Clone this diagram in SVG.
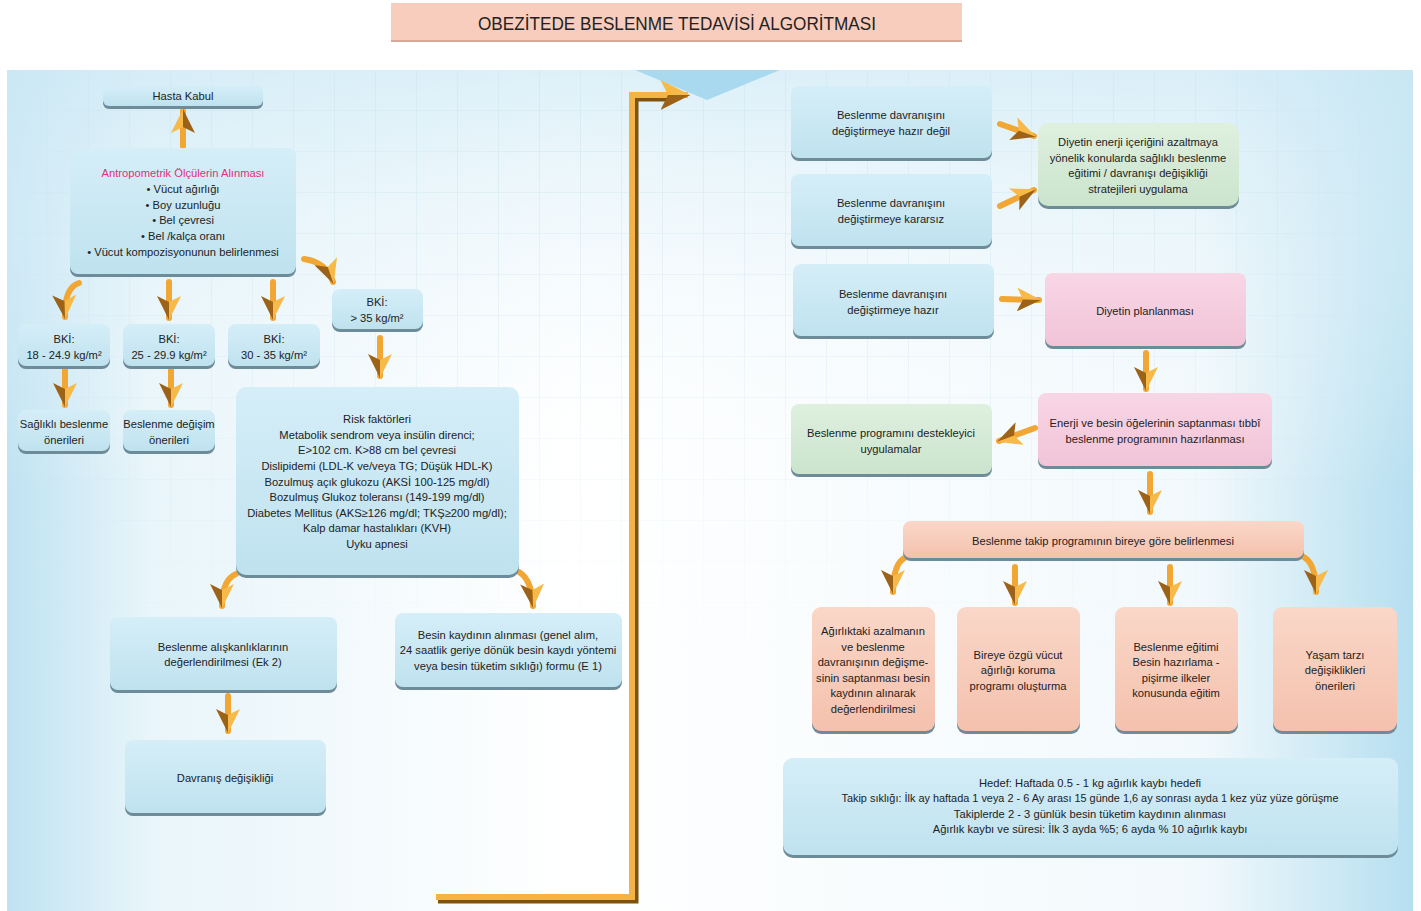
<svg xmlns="http://www.w3.org/2000/svg" width="1421" height="911" viewBox="0 0 1421 911">
<defs>
<linearGradient id="bgH" x1="0" y1="0" x2="1" y2="0">
<stop offset="0" stop-color="#bfe2f2"/><stop offset="0.1" stop-color="#e8f5fa"/><stop offset="0.4" stop-color="#ffffff"/><stop offset="0.85" stop-color="#f2f9fc"/><stop offset="1" stop-color="#b6dff0"/>
</linearGradient>
<linearGradient id="bgV" x1="0" y1="0" x2="0" y2="1">
<stop offset="0" stop-color="#cfeaf6" stop-opacity="0.7"/><stop offset="0.5" stop-color="#ffffff" stop-opacity="0"/>
</linearGradient>
<linearGradient id="fade" x1="0" y1="0" x2="0" y2="1">
<stop offset="0" stop-color="#fff"/><stop offset="1" stop-color="#000"/>
</linearGradient>
<mask id="gm"><rect x="0" y="70" width="1421" height="600" fill="url(#fade)"/></mask>
<pattern id="grid" x="7" y="70" width="41" height="41" patternUnits="userSpaceOnUse">
<path d="M41 0 V41 M0 41 H41" fill="none" stroke="#cfe6f1" stroke-width="1.2"/>
</pattern>
<linearGradient id="gBlue" x1="0" y1="0" x2="0" y2="1"><stop offset="0" stop-color="#d5eef8"/><stop offset="1" stop-color="#bfe2ef"/></linearGradient>
<linearGradient id="gPink" x1="0" y1="0" x2="0" y2="1"><stop offset="0" stop-color="#f8d6e5"/><stop offset="1" stop-color="#f1c4d8"/></linearGradient>
<linearGradient id="gGreen" x1="0" y1="0" x2="0" y2="1"><stop offset="0" stop-color="#dff0df"/><stop offset="1" stop-color="#cbe4cd"/></linearGradient>
<linearGradient id="gSalmon" x1="0" y1="0" x2="0" y2="1"><stop offset="0" stop-color="#fad7c8"/><stop offset="1" stop-color="#f4c1ad"/></linearGradient>
<marker id="ah" viewBox="0 0 12 12" refX="11" refY="6" markerWidth="24" markerHeight="24" markerUnits="userSpaceOnUse" orient="auto">
<path d="M0,0 L12,6 L3,6 Z" fill="#f7b947"/>
<path d="M3,6 L12,6 L0,12 Z" fill="#9c6218"/>
</marker>
<marker id="ahBig" viewBox="0 0 12 12" refX="11" refY="6" markerWidth="30" markerHeight="30" markerUnits="userSpaceOnUse" orient="auto">
<path d="M0,0 L12,6 L3,6 Z" fill="#f7b947"/>
<path d="M3,6 L12,6 L0,12 Z" fill="#9c6218"/>
</marker>
<style>
.t{font-family:"Liberation Sans",Arial,sans-serif;font-size:11.2px;fill:#222;text-anchor:middle}
.pk{fill:#e0307a}
.sh{fill:#6d8b99}
.blue{fill:url(#gBlue)}
.pink{fill:url(#gPink)}
.green{fill:url(#gGreen)}
.salmon{fill:url(#gSalmon)}
.ar{fill:none;stroke:#f2a634;stroke-width:6;stroke-linecap:round;marker-end:url(#ah)}
</style>
</defs>

<rect width="1421" height="911" fill="#ffffff"/>
<rect x="7" y="70" width="1406" height="841" fill="url(#bgH)"/>
<rect x="7" y="70" width="1406" height="841" fill="url(#bgV)"/>
<rect x="7" y="70" width="1406" height="600" fill="url(#grid)" mask="url(#gm)"/>
<polygon points="635,70 780,70 707,100" fill="#a9d9ef"/>

<g id="title">
<rect x="391" y="3" width="571" height="39" fill="#f8cdbd"/>
<rect x="391" y="40" width="571" height="2" fill="#d8a898"/>
<text x="677" y="30" font-family="Liberation Sans,Arial,sans-serif" font-size="18" fill="#222" text-anchor="middle" textLength="398" lengthAdjust="spacingAndGlyphs">OBEZİTEDE BESLENME TEDAVİSİ ALGORİTMASI</text>
</g>

<g id="connectors">
<path class="ar" d="M183,146 L183,111"/>
<path class="ar" d="M79,283 Q64,288 65,317"/>
<path class="ar" d="M169,282 L169,318"/>
<path class="ar" d="M273,282 L273,318"/>
<path class="ar" d="M304,259 Q326,262 333,282"/>
<path class="ar" d="M380,338 L380,376"/>
<path class="ar" d="M65,370 L65,405"/>
<path class="ar" d="M171,370 L171,405"/>
<path class="ar" d="M236,574 Q222,580 222,606"/>
<path class="ar" d="M519,572 Q532,580 533,606"/>
<path class="ar" d="M228,696 L228,731"/>
<path d="M438,900 L635,900 L635,98 L672,98" fill="none" stroke="#7d5312" stroke-width="7"/>
<path d="M436,897 L632,897 L632,95 L688,95" fill="none" stroke="#f4b347" stroke-width="6" marker-end="url(#ahBig)"/>
<path class="ar" d="M1000,124 L1034,136"/>
<path class="ar" d="M1000,206 L1034,190"/>
<path class="ar" d="M1002,299 L1039,300"/>
<path class="ar" d="M1035,428 L999,441"/>
<path class="ar" d="M1146,353 L1146,389"/>
<path class="ar" d="M1150,474 L1150,512"/>
<path class="ar" d="M906,557 Q893,563 893,592"/>
<path class="ar" d="M1015,567 L1015,603"/>
<path class="ar" d="M1170,567 L1170,603"/>
<path class="ar" d="M1302,556 Q1316,562 1316,592"/>
</g>

<g id="hasta-kabul">
<rect class="sh" x="103" y="89" width="160" height="20" rx="6"/>
<rect class="blue" x="103" y="86" width="160" height="20" rx="6"/>
<text class="t" x="183" y="100">Hasta Kabul</text>
</g>

<g id="antropometrik">
<rect class="sh" x="70" y="151" width="226" height="126" rx="8"/>
<rect class="blue" x="70" y="148" width="226" height="126" rx="8"/>
<text class="t pk" x="183" y="177">Antropometrik Ölçülerin Alınması</text>
<text class="t" x="183" y="193">• Vücut ağırlığı</text>
<text class="t" x="183" y="209">• Boy uzunluğu</text>
<text class="t" x="183" y="224">•  Bel çevresi</text>
<text class="t" x="183" y="240">• Bel /kalça oranı</text>
<text class="t" x="183" y="256">• Vücut kompozisyonunun belirlenmesi</text>
</g>

<g id="bki1">
<rect class="sh" x="18" y="327" width="92" height="42" rx="8"/>
<rect class="blue" x="18" y="324" width="92" height="42" rx="8"/>
<text class="t" x="64" y="343">BKİ:</text>
<text class="t" x="64" y="359">18 - 24.9 kg/m²</text>
</g>
<g id="bki2">
<rect class="sh" x="123" y="327" width="92" height="42" rx="8"/>
<rect class="blue" x="123" y="324" width="92" height="42" rx="8"/>
<text class="t" x="169" y="343">BKİ:</text>
<text class="t" x="169" y="359">25 - 29.9 kg/m²</text>
</g>
<g id="bki3">
<rect class="sh" x="228" y="327" width="92" height="42" rx="8"/>
<rect class="blue" x="228" y="324" width="92" height="42" rx="8"/>
<text class="t" x="274" y="343">BKİ:</text>
<text class="t" x="274" y="359">30 - 35 kg/m²</text>
</g>
<g id="bki4">
<rect class="sh" x="332" y="292" width="91" height="40" rx="8"/>
<rect class="blue" x="332" y="289" width="91" height="40" rx="8"/>
<text class="t" x="377" y="306">BKİ:</text>
<text class="t" x="377" y="322">&gt; 35 kg/m²</text>
</g>
<g id="saglikli">
<rect class="sh" x="18" y="413" width="92" height="41" rx="8"/>
<rect class="blue" x="18" y="410" width="92" height="41" rx="8"/>
<text class="t" x="64" y="428">Sağlıklı beslenme</text>
<text class="t" x="64" y="444">önerileri</text>
</g>
<g id="degisim">
<rect class="sh" x="123" y="413" width="92" height="41" rx="8"/>
<rect class="blue" x="123" y="410" width="92" height="41" rx="8"/>
<text class="t" x="169" y="428">Beslenme değişim</text>
<text class="t" x="169" y="444">önerileri</text>
</g>

<g id="risk">
<rect class="sh" x="236" y="390" width="283" height="188" rx="10"/>
<rect class="blue" x="236" y="387" width="283" height="188" rx="10"/>
<text class="t" x="377" y="423">Risk faktörleri</text>
<text class="t" x="377" y="439">Metabolik sendrom veya insülin direnci;</text>
<text class="t" x="377" y="454">E&gt;102 cm. K&gt;88 cm bel çevresi</text>
<text class="t" x="377" y="470">Dislipidemi (LDL-K ve/veya TG; Düşük HDL-K)</text>
<text class="t" x="377" y="486">Bozulmuş açık glukozu (AKSİ 100-125 mg/dl)</text>
<text class="t" x="377" y="501">Bozulmuş Glukoz toleransı (149-199 mg/dl)</text>
<text class="t" x="377" y="517">Diabetes Mellitus (AKS≥126 mg/dl; TKŞ≥200 mg/dl);</text>
<text class="t" x="377" y="532">Kalp damar hastalıkları (KVH)</text>
<text class="t" x="377" y="548">Uyku apnesi</text>
</g>

<g id="aliskanlik">
<rect class="sh" x="110" y="620" width="227" height="73" rx="8"/>
<rect class="blue" x="110" y="617" width="227" height="73" rx="8"/>
<text class="t" x="223" y="651">Beslenme alışkanlıklarının</text>
<text class="t" x="223" y="666">değerlendirilmesi (Ek 2)</text>
</g>
<g id="besin-kaydi">
<rect class="sh" x="395" y="616" width="227" height="74" rx="8"/>
<rect class="blue" x="395" y="613" width="227" height="74" rx="8"/>
<text class="t" x="508" y="639">Besin kaydının alınması (genel alım,</text>
<text class="t" x="508" y="654">24 saatlik geriye dönük besin kaydı yöntemi</text>
<text class="t" x="508" y="670">veya besin tüketim sıklığı) formu (E 1)</text>
</g>
<g id="davranis">
<rect class="sh" x="125" y="743" width="201" height="73" rx="8"/>
<rect class="blue" x="125" y="740" width="201" height="73" rx="8"/>
<text class="t" x="225" y="782">Davranış değişikliği</text>
</g>

<g id="hazir-degil">
<rect class="sh" x="791" y="89" width="201" height="72" rx="8"/>
<rect class="blue" x="791" y="86" width="201" height="72" rx="8"/>
<text class="t" x="891" y="119">Beslenme davranışını</text>
<text class="t" x="891" y="135">değiştirmeye hazır değil</text>
</g>
<g id="kararsiz">
<rect class="sh" x="791" y="177" width="201" height="72" rx="8"/>
<rect class="blue" x="791" y="174" width="201" height="72" rx="8"/>
<text class="t" x="891" y="207">Beslenme davranışını</text>
<text class="t" x="891" y="223">değiştirmeye kararsız</text>
</g>
<g id="hazir">
<rect class="sh" x="793" y="267" width="201" height="72" rx="8"/>
<rect class="blue" x="793" y="264" width="201" height="72" rx="8"/>
<text class="t" x="893" y="298">Beslenme davranışını</text>
<text class="t" x="893" y="314">değiştirmeye hazır</text>
</g>
<g id="enerji-azaltma">
<rect class="sh" x="1038" y="126" width="201" height="83" rx="10"/>
<rect class="green" x="1038" y="123" width="201" height="83" rx="10"/>
<text class="t" x="1138" y="146">Diyetin enerji içeriğini azaltmaya</text>
<text class="t" x="1138" y="162">yönelik konularda sağlıklı beslenme</text>
<text class="t" x="1138" y="177">eğitimi / davranışı değişikliği</text>
<text class="t" x="1138" y="193">stratejileri uygulama</text>
</g>
<g id="planlama">
<rect class="sh" x="1045" y="276" width="201" height="73" rx="8"/>
<rect class="pink" x="1045" y="273" width="201" height="73" rx="8"/>
<text class="t" x="1145" y="315">Diyetin planlanması</text>
</g>
<g id="enerji-besin">
<rect class="sh" x="1038" y="396" width="234" height="73" rx="8"/>
<rect class="pink" x="1038" y="393" width="234" height="73" rx="8"/>
<text class="t" x="1155" y="427">Enerji ve besin öğelerinin saptanması tıbbî</text>
<text class="t" x="1155" y="443">beslenme programının hazırlanması</text>
</g>
<g id="destekleyici">
<rect class="sh" x="791" y="407" width="201" height="70" rx="8"/>
<rect class="green" x="791" y="404" width="201" height="70" rx="8"/>
<text class="t" x="891" y="437">Beslenme programını destekleyici</text>
<text class="t" x="891" y="453">uygulamalar</text>
</g>
<g id="takip">
<rect class="sh" x="903" y="524" width="401" height="37" rx="8"/>
<rect class="salmon" x="903" y="521" width="401" height="37" rx="8"/>
<text class="t" x="1103" y="545">Beslenme takip programının bireye göre belirlenmesi</text>
</g>
<g id="takip1">
<rect class="sh" x="812" y="610" width="123" height="124" rx="9"/>
<rect class="salmon" x="812" y="607" width="123" height="124" rx="9"/>
<text class="t" x="873" y="635">Ağırlıktaki azalmanın</text>
<text class="t" x="873" y="651">ve beslenme</text>
<text class="t" x="873" y="666">davranışının değişme-</text>
<text class="t" x="873" y="682">sinin saptanması besin</text>
<text class="t" x="873" y="697">kaydının alınarak</text>
<text class="t" x="873" y="713">değerlendirilmesi</text>
</g>
<g id="takip2">
<rect class="sh" x="957" y="610" width="123" height="124" rx="9"/>
<rect class="salmon" x="957" y="607" width="123" height="124" rx="9"/>
<text class="t" x="1018" y="659">Bireye özgü vücut</text>
<text class="t" x="1018" y="674">ağırlığı koruma</text>
<text class="t" x="1018" y="690">programı oluşturma</text>
</g>
<g id="takip3">
<rect class="sh" x="1115" y="610" width="123" height="124" rx="9"/>
<rect class="salmon" x="1115" y="607" width="123" height="124" rx="9"/>
<text class="t" x="1176" y="651">Beslenme eğitimi</text>
<text class="t" x="1176" y="666">Besin hazırlama -</text>
<text class="t" x="1176" y="682">pişirme ilkeler</text>
<text class="t" x="1176" y="697">konusunda eğitim</text>
</g>
<g id="takip4">
<rect class="sh" x="1273" y="610" width="124" height="124" rx="9"/>
<rect class="salmon" x="1273" y="607" width="124" height="124" rx="9"/>
<text class="t" x="1335" y="659">Yaşam tarzı</text>
<text class="t" x="1335" y="674">değişiklikleri</text>
<text class="t" x="1335" y="690">önerileri</text>
</g>
<g id="hedef">
<rect class="sh" x="783" y="761" width="615" height="97" rx="10"/>
<rect class="blue" x="783" y="758" width="615" height="97" rx="10"/>
<text class="t" x="1090" y="787">Hedef: Haftada 0.5 - 1 kg ağırlık kaybı hedefi</text>
<text class="t" x="1090" y="802" textLength="497" lengthAdjust="spacingAndGlyphs">Takip sıklığı: İlk ay haftada 1 veya 2 - 6 Ay arası 15 günde 1,6 ay sonrası ayda 1 kez yüz yüze görüşme</text>
<text class="t" x="1090" y="818">Takiplerde 2 - 3 günlük besin tüketim kaydının alınması</text>
<text class="t" x="1090" y="833">Ağırlık kaybı ve süresi: İlk 3 ayda %5; 6 ayda % 10 ağırlık kaybı</text>
</g>
</svg>
